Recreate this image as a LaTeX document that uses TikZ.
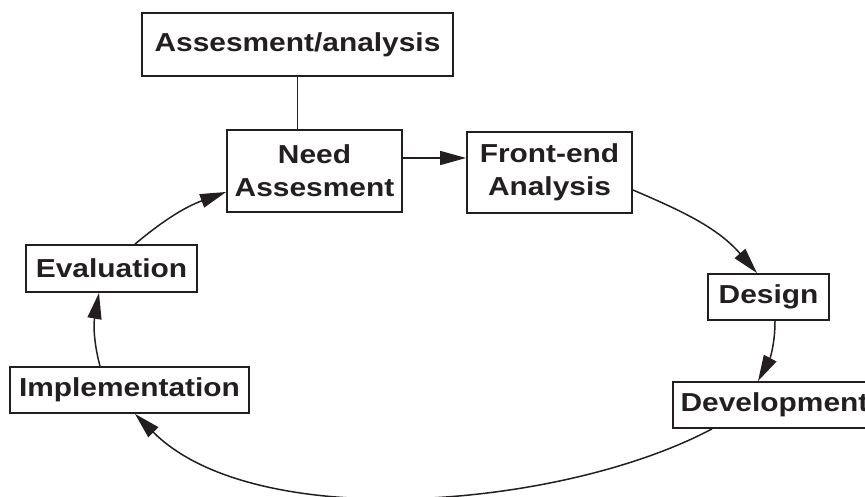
\documentclass[tikz,border=0pt]{standalone}
\usepackage{fontspec}
\setmainfont{Liberation Sans}[FakeStretch=1.15]
\usetikzlibrary{arrows.meta}
\definecolor{ink}{RGB}{35,31,32}
\tikzset{
    box/.style={draw=ink, line width=1.8pt, inner sep=0pt, align=center,
        text=ink, font=\fontsize{26}{33}\selectfont\bfseries},
    flow/.style={draw=ink, line width=1.5pt, -{Triangle[length=26pt,width=14pt]}}
}
\begin{document}
\begin{tikzpicture}[x=1pt, y=1pt]
    \useasboundingbox (0,0) rectangle (865,497);
    \clip (0,0) rectangle (865,497);

    \node[box, minimum width=311pt, minimum height=63pt] (assess) at (297.5,452.5) {Assesment/analysis};
    \node[box, minimum width=175pt, minimum height=82pt] (need) at (314.5,326) {Need\\Assesment};
    \node[box, minimum width=165pt, minimum height=81pt] (front) at (549.5,324.5) {Front-end\\Analysis};
    \node[box, minimum width=121pt, minimum height=46pt] (design) at (768.5,200) {Design};
    \node[box, minimum width=203pt, minimum height=46pt] (devel) at (774.5,92) {Development};
    \node[box, minimum width=239pt, minimum height=46pt] (impl) at (129.5,107) {Implementation};
    \node[box, minimum width=171pt, minimum height=47pt] (eval) at (111.5,228.5) {Evaluation};

    \draw[draw=ink, line width=1.8pt] (assess.south) -- (assess.south |- need.north);
    \draw[flow] ([yshift=13pt]need.east) -- ([yshift=13pt]need.east -| front.west);
    \draw[flow] ([yshift=-17.5pt]front.east) to[out=-23, in=131] ([xshift=-11.5pt]design.north);
    \draw[flow] ([xshift=6.5pt]design.south) to[out=-90, in=62] ([xshift=-16.5pt]devel.north);
    \draw[flow] ([xshift=-62.5pt]devel.south) .. controls +(208:170pt) and +(-45:170pt) .. ([xshift=5.5pt]impl.south);
    \draw[flow] ([xshift=-29.5pt]impl.north) to[out=105, in=-100] ([xshift=-12.5pt]eval.south);
    \draw[flow] ([xshift=23.5pt]eval.north) to[out=40, in=-160] ([yshift=-21pt]need.west);

\end{tikzpicture}
\end{document}
